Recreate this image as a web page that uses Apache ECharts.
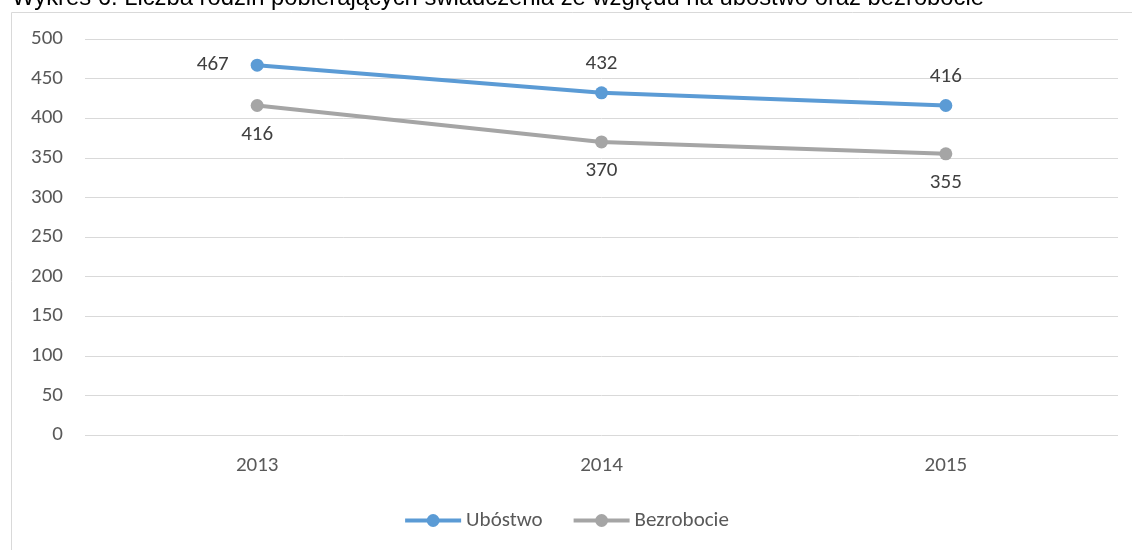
<!DOCTYPE html>
<html><head><meta charset="utf-8">
<script src="https://cdn.jsdelivr.net/npm/echarts@6/dist/echarts.min.js"></script>
<style>html,body{margin:0;padding:0;background:#fff}#c{width:1132px;height:550px}</style>
</head><body><div id="c"></div>
<script>
const titleText = 'Wykres 6. Liczba rodzin pobierających świadczenia ze względu na ubóstwo oraz bezrobocie';
const categories = ['2013', '2014', '2015'];
const ubostwo = [467, 432, 416];
const bezrobocie = [416, 370, 355];
const FONT = 'Carlito, Calibri, Lato, sans-serif';
const FS = 21;
const chart = echarts.init(document.getElementById('c'));
chart.setOption({
  animation: false,
  title: { text: titleText, left: 7, top: -19, textStyle: { fontFamily: 'Liberation Sans, Arial, sans-serif', fontSize: 23.8, fontWeight: 'normal', color: '#000' } },
  graphic: [{ type: 'rect', left: 9, top: 10, shape: { width: 1300, height: 700 }, style: { fill: 'none', stroke: '#d9d9d9', lineWidth: 1 }, z: -1 }],
  grid: { left: 85, right: 14, top: 39, bottom: 115 },
  legend: { bottom: 14, left: 'center', itemWidth: 56, itemHeight: 16, itemGap: 29,
    lineStyle: { width: 4 },
    textStyle: { fontFamily: FONT, fontSize: FS, color: '#595959' },
    data: ['Ubóstwo', 'Bezrobocie'] },
  xAxis: { type: 'category', data: categories, boundaryGap: true,
    axisLine: { show: false }, axisTick: { show: false },
    axisLabel: { fontFamily: FONT, fontSize: FS, color: '#595959', margin: 20 } },
  yAxis: { type: 'value', min: 0, max: 500, interval: 50,
    axisLine: { show: false }, axisTick: { show: false },
    splitLine: { lineStyle: { color: '#d9d9d9', width: 1 } },
    axisLabel: { fontFamily: FONT, fontSize: FS, color: '#595959', margin: 22 } },
  series: [
    { name: 'Ubóstwo', type: 'line', data: ubostwo.map((v, i) => i === 0 ? { value: v, label: { position: 'left', distance: 22 } } : v),
      symbol: 'circle', symbolSize: 13, lineStyle: { width: 4, color: '#5b9bd5' }, itemStyle: { color: '#5b9bd5' },
      label: { show: true, position: 'top', distance: 12, fontFamily: FONT, fontSize: FS, color: '#404040' } },
    { name: 'Bezrobocie', type: 'line', data: bezrobocie,
      symbol: 'circle', symbolSize: 13, lineStyle: { width: 4, color: '#a5a5a5' }, itemStyle: { color: '#a5a5a5' },
      label: { show: true, position: 'bottom', distance: 12, fontFamily: FONT, fontSize: FS, color: '#404040' } }
  ]
});
</script></body></html>
